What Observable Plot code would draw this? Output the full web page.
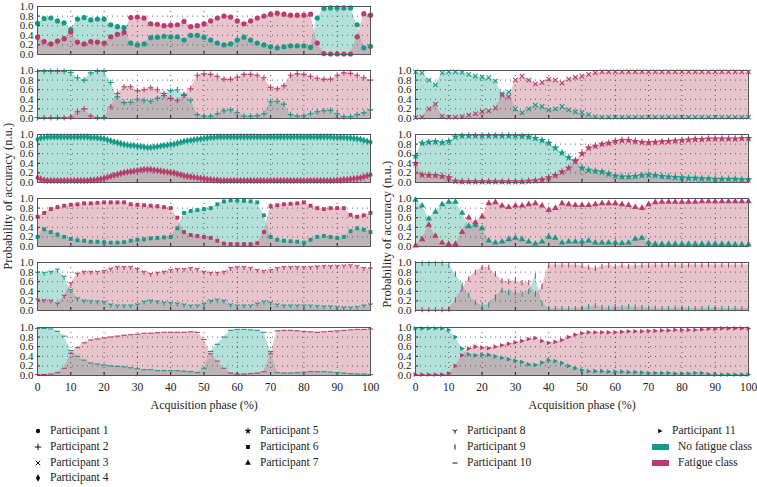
<!DOCTYPE html>
<html><head><meta charset="utf-8">
<script src="https://cdn.jsdelivr.net/npm/d3@7"></script>
<script src="https://cdn.jsdelivr.net/npm/@observablehq/plot@0.6"></script>
<style>
body{margin:0;background:#fff;}
#root{position:relative;width:757px;height:487px;overflow:hidden;font-family:"Liberation Serif","DejaVu Serif","Times New Roman",serif;color:#222;}
.panel{position:absolute;}
.lbl{position:absolute;font-size:12.5px;white-space:nowrap;line-height:1;}
.lblx{font-size:12px;}
.leg{position:absolute;font-size:11.5px;white-space:nowrap;display:flex;align-items:center;line-height:1;}
</style></head><body><div id="root"></div>
<script>
// ---------------- data ----------------
const phase = [0,2,4,6,8,10,12,14,16,18,20,22,24,26,28,30,32,34,36,38,40,42,44,46,48,50,52,54,56,58,60,62,64,66,68,70,72,74,76,78,80,82,84,86,88,90,92,94,96,98,100];
const phaseFine = [0,1,2,3,4,5,6,7,8,9,10,11,12,13,14,15,16,17,18,19,20,21,22,23,24,25,26,27,28,29,30,31,32,33,34,35,36,37,38,39,40,41,42,43,44,45,46,47,48,49,50,51,52,53,54,55,56,57,58,59,60,61,62,63,64,65,66,67,68,69,70,71,72,73,74,75,76,77,78,79,80,81,82,83,84,85,86,87,88,89,90,91,92,93,94,95,96,97,98,99,100];
const xTicks = [0,10,20,30,40,50,60,70,80,90,100];
const xGrid = [10,20,30,40,50,60,70,80,90];
const yTicks = [0,0.2,0.4,0.6,0.8,1.0];
const yGrid = [0.2,0.4,0.6,0.8];

const p1NoFatigue = [.65,.75,.76,.70,.66,.52,.74,.77,.72,.74,.74,.62,.58,.56,.24,.20,.22,.35,.36,.38,.37,.37,.30,.40,.40,.36,.30,.24,.20,.22,.30,.36,.30,.24,.20,.16,.14,.16,.18,.18,.18,.15,.76,.96,.97,.97,.97,.97,.62,.14,.17];
const p1Fatigue   = [.36,.27,.22,.28,.33,.47,.26,.22,.27,.26,.24,.37,.42,.46,.77,.78,.76,.64,.63,.60,.61,.62,.69,.58,.60,.64,.70,.76,.80,.78,.70,.64,.70,.76,.80,.84,.86,.84,.82,.82,.82,.84,.24,.02,.01,.01,.01,.01,.37,.85,.82];

const p2NoFatigue = [.98,.98,.98,.98,.98,.96,.85,.80,.95,.98,.98,.75,.45,.33,.34,.40,.38,.36,.42,.48,.58,.60,.50,.38,.08,.05,.05,.10,.16,.18,.12,.05,.05,.06,.10,.35,.36,.30,.08,.05,.06,.10,.14,.16,.17,.10,.04,.04,.08,.12,.18];
const p2Fatigue   = [.02,.02,.02,.02,.02,.03,.14,.20,.05,.02,.02,.24,.52,.66,.66,.58,.60,.64,.60,.52,.42,.38,.48,.62,.90,.93,.92,.88,.82,.82,.86,.92,.92,.90,.85,.65,.62,.68,.90,.93,.92,.88,.84,.82,.82,.90,.95,.94,.90,.85,.80];

const p3NoFatigue = [.97,.95,.80,.70,.95,.97,.97,.96,.92,.88,.86,.85,.78,.52,.55,.20,.12,.20,.28,.25,.18,.20,.25,.18,.14,.12,.08,.04,.03,.03,.03,.03,.03,.03,.03,.03,.03,.03,.03,.03,.03,.03,.03,.03,.03,.03,.03,.03,.03,.03,.03];
const p3Fatigue   = [.02,.03,.20,.30,.05,.03,.03,.04,.07,.10,.14,.16,.22,.48,.45,.80,.88,.80,.72,.75,.82,.80,.74,.82,.86,.88,.92,.95,.97,.97,.97,.97,.97,.97,.97,.97,.97,.97,.97,.97,.97,.97,.97,.97,.97,.97,.97,.97,.97,.97,.97];

const p4NoFatigue = [.90,.93,.94,.95,.95,.95,.95,.95,.95,.95,.95,.95,.95,.95,.95,.95,.94,.94,.93,.92,.91,.89,.87,.85,.83,.81,.79,.78,.77,.77,.76,.75,.74,.73,.73,.74,.75,.76,.77,.78,.79,.80,.82,.84,.86,.87,.88,.89,.90,.91,.92,.93,.94,.94,.95,.95,.95,.95,.95,.95,.95,.95,.95,.95,.95,.95,.95,.95,.95,.95,.95,.95,.95,.95,.95,.95,.95,.95,.95,.95,.95,.95,.95,.95,.95,.95,.95,.95,.95,.94,.94,.94,.94,.93,.93,.92,.91,.90,.88,.86,.84];
const p4Fatigue   = [.10,.07,.05,.04,.04,.04,.04,.04,.04,.04,.04,.04,.04,.04,.04,.04,.05,.05,.06,.07,.09,.11,.13,.15,.17,.19,.21,.22,.23,.24,.25,.26,.27,.27,.27,.26,.25,.24,.23,.22,.21,.20,.18,.16,.14,.13,.12,.11,.10,.09,.08,.07,.06,.05,.05,.04,.04,.04,.04,.04,.04,.04,.04,.04,.04,.04,.04,.04,.04,.04,.04,.04,.04,.04,.04,.04,.04,.04,.04,.04,.04,.04,.04,.04,.04,.04,.04,.04,.04,.04,.05,.05,.06,.06,.07,.08,.09,.10,.12,.14,.16];

const p5NoFatigue = [.55,.82,.84,.85,.83,.86,.95,.97,.97,.97,.97,.97,.97,.97,.97,.97,.96,.95,.92,.88,.82,.72,.62,.52,.45,.30,.26,.24,.22,.18,.14,.12,.12,.13,.15,.16,.15,.13,.12,.11,.10,.09,.09,.08,.08,.07,.07,.07,.07,.06,.06];
const p5Fatigue   = [.40,.16,.15,.15,.13,.10,.03,.02,.02,.02,.02,.02,.02,.02,.02,.02,.02,.03,.04,.06,.10,.15,.22,.30,.45,.60,.72,.76,.80,.82,.86,.88,.88,.86,.84,.83,.84,.85,.86,.87,.88,.89,.90,.90,.91,.91,.91,.91,.91,.92,.92];

const p6NoFatigue = [.20,.36,.30,.25,.20,.16,.13,.12,.10,.10,.09,.08,.08,.09,.12,.14,.15,.17,.18,.19,.20,.38,.70,.74,.76,.78,.80,.88,.94,.96,.96,.95,.94,.92,.65,.20,.14,.12,.11,.10,.08,.14,.20,.22,.20,.18,.20,.32,.38,.35,.30];
const p6Fatigue   = [.62,.70,.78,.82,.85,.87,.88,.90,.90,.91,.92,.92,.92,.92,.88,.87,.86,.85,.84,.82,.80,.60,.30,.24,.22,.20,.18,.12,.06,.05,.05,.05,.05,.07,.30,.84,.86,.88,.89,.90,.92,.85,.80,.78,.80,.80,.80,.66,.62,.65,.70];

const p7NoFatigue = [.97,.85,.58,.72,.88,.93,.93,.70,.42,.45,.38,.12,.08,.10,.15,.18,.15,.10,.06,.10,.20,.18,.08,.10,.10,.10,.12,.08,.08,.08,.08,.07,.08,.16,.18,.08,.05,.05,.05,.05,.05,.05,.05,.05,.05,.05,.05,.05,.04,.04,.04];
const p7Fatigue   = [.02,.15,.45,.22,.08,.05,.05,.30,.60,.50,.62,.90,.92,.85,.82,.85,.85,.88,.90,.85,.76,.80,.90,.88,.86,.86,.86,.88,.90,.90,.90,.88,.86,.82,.80,.88,.92,.93,.93,.93,.93,.93,.93,.94,.94,.94,.94,.94,.94,.94,.94];

const p8NoFatigue = [.78,.78,.80,.85,.70,.42,.25,.20,.19,.18,.17,.12,.10,.10,.10,.12,.18,.20,.18,.16,.15,.14,.12,.10,.10,.13,.20,.22,.20,.12,.10,.10,.10,.14,.18,.16,.12,.10,.10,.10,.10,.10,.09,.08,.08,.07,.06,.06,.07,.10,.12];
const p8Fatigue   = [.22,.21,.20,.14,.30,.56,.76,.80,.80,.80,.82,.87,.90,.90,.90,.86,.80,.76,.78,.80,.84,.86,.86,.88,.86,.80,.78,.78,.80,.88,.90,.90,.88,.84,.82,.84,.88,.90,.90,.90,.90,.90,.91,.92,.92,.92,.93,.94,.92,.88,.87];

const p9NoFatigue = [.98,.98,.98,.98,.98,.96,.76,.53,.32,.17,.10,.12,.28,.42,.38,.38,.34,.40,.72,.15,.04,.04,.04,.04,.04,.05,.08,.10,.06,.05,.08,.06,.08,.07,.06,.05,.05,.04,.04,.05,.05,.04,.04,.04,.05,.05,.04,.04,.04,.04,.04];
const p9Fatigue   = [.02,.02,.02,.02,.02,.03,.22,.45,.66,.80,.90,.90,.76,.62,.60,.62,.58,.58,.34,.50,.95,.95,.95,.95,.95,.94,.90,.88,.92,.94,.92,.94,.92,.93,.94,.95,.95,.95,.95,.95,.95,.95,.95,.95,.95,.95,.95,.95,.95,.95,.95];

const p10NoFatigue = [.98,.98,.97,.92,.82,.52,.40,.32,.26,.24,.22,.20,.19,.18,.16,.14,.12,.12,.10,.10,.10,.10,.09,.08,.06,.15,.50,.65,.80,.94,.96,.96,.95,.94,.90,.50,.06,.05,.05,.06,.07,.08,.08,.08,.07,.06,.05,.04,.03,.03,.02];
const p10Fatigue   = [.02,.02,.03,.06,.15,.46,.58,.68,.74,.76,.78,.80,.82,.84,.85,.86,.88,.88,.89,.90,.90,.90,.90,.91,.90,.75,.45,.30,.15,.05,.03,.03,.04,.05,.08,.45,.93,.94,.94,.93,.92,.91,.90,.91,.92,.93,.94,.95,.96,.96,.97];

const p11NoFatigue = [.98,.98,.98,.98,.98,.95,.80,.56,.44,.42,.43,.43,.40,.37,.34,.31,.28,.23,.22,.27,.32,.30,.26,.20,.15,.11,.09,.09,.09,.08,.08,.08,.07,.07,.06,.05,.05,.05,.05,.04,.04,.04,.05,.05,.03,.02,.02,.02,.02,.02,.02];
const p11Fatigue   = [.02,.02,.02,.02,.02,.04,.20,.42,.56,.60,.58,.57,.60,.63,.66,.69,.72,.76,.78,.72,.68,.70,.74,.80,.85,.88,.90,.90,.90,.90,.90,.91,.92,.92,.92,.93,.93,.94,.94,.95,.95,.95,.95,.96,.97,.97,.98,.98,.98,.98,.98];

const participantNames = ["Participant 1","Participant 2","Participant 3","Participant 4","Participant 5","Participant 6","Participant 7","Participant 8","Participant 9","Participant 10","Participant 11"];
const classNames = ["No fatigue class","Fatigue class"];
const axisTitleX = "Acquisition phase (%)";
const axisTitleY = "Probability of accuracy (n.u.)";

// ---------------- styling ----------------
const tealMark = "#169b88", pinkMark = "#b83d6c";
const tealFill = "#b3e1d9", pinkFill = "#cd7f92", pinkOpacity = 0.46;
const FONT = '"Liberation Serif","DejaVu Serif","Times New Roman",serif';

const vline = {draw(ctx, size){const r = Math.sqrt(size/Math.PI)*1.15; ctx.moveTo(0,-r); ctx.lineTo(0,r);}};
const hline = {draw(ctx, size){const r = Math.sqrt(size/Math.PI)*1.15; ctx.moveTo(-r,0); ctx.lineTo(r,0);}};
const triRight = {draw(ctx, size){const r = Math.sqrt(size/Math.PI)*1.2; ctx.moveTo(r,0); ctx.lineTo(-r*0.7,-r*0.85); ctx.lineTo(-r*0.7,r*0.85); ctx.closePath();}};
const triDownY = {draw(ctx, size){const r = Math.sqrt(size/Math.PI)*1.2; ctx.moveTo(0,0); ctx.lineTo(0,r); ctx.moveTo(0,0); ctx.lineTo(-r*0.87,-r*0.5); ctx.moveTo(0,0); ctx.lineTo(r*0.87,-r*0.5);}};

const symbols = [
  {plot:"circle", d3:d3.symbolCircle, filled:true, r:2.6},
  {plot:"plus", d3:d3.symbolPlus, filled:false, r:2.0},
  {plot:"times", d3:d3.symbolTimes, filled:false, r:2.2},
  {plot:"diamond", d3:d3.symbolDiamond, filled:true, r:2.3},
  {plot:"star", d3:d3.symbolStar, filled:true, r:2.6},
  {plot:"square", d3:d3.symbolSquare, filled:true, r:2.2},
  {plot:"triangle", d3:d3.symbolTriangle, filled:true, r:2.4},
  {plot:triDownY, d3:triDownY, filled:false, r:2.2},
  {plot:vline, d3:vline, filled:false, r:2.3},
  {plot:hline, d3:hline, filled:false, r:2.3},
  {plot:triRight, d3:triRight, filled:true, r:2.3}
];

const panels = [
  {p:0, col:0, row:0, x:phase, nf:p1NoFatigue, f:p1Fatigue},
  {p:1, col:0, row:1, x:phase, nf:p2NoFatigue, f:p2Fatigue},
  {p:3, col:0, row:2, x:phaseFine, nf:p4NoFatigue, f:p4Fatigue},
  {p:5, col:0, row:3, x:phase, nf:p6NoFatigue, f:p6Fatigue},
  {p:7, col:0, row:4, x:phase, nf:p8NoFatigue, f:p8Fatigue},
  {p:9, col:0, row:5, x:phase, nf:p10NoFatigue, f:p10Fatigue},
  {p:2, col:1, row:1, x:phase, nf:p3NoFatigue, f:p3Fatigue},
  {p:4, col:1, row:2, x:phase, nf:p5NoFatigue, f:p5Fatigue},
  {p:6, col:1, row:3, x:phase, nf:p7NoFatigue, f:p7Fatigue},
  {p:8, col:1, row:4, x:phase, nf:p9NoFatigue, f:p9Fatigue},
  {p:10, col:1, row:5, x:phase, nf:p11NoFatigue, f:p11Fatigue}
];

const root = document.getElementById("root");
const PANEL_H = 48, MT = 6, ROW_STEP = 64.1, TOP0 = 6;

function dotOpts(key, color, s){
  return {x:"x", y:key, symbol:s.plot, r:s.r,
    fill: s.filled ? color : "none", stroke: s.filled ? "none" : color,
    strokeWidth: s.filled ? 0 : 1.1};
}

for (const pn of panels){
  const s = symbols[pn.p];
  const data = pn.x.map((x,i)=>({x, nf:pn.nf[i], f:pn.f[i]}));
  const bottom = pn.row === 5;
  const MB = bottom ? 24 : 4;
  const plot = Plot.plot({
    width: 374, height: MT + PANEL_H + MB,
    marginLeft: 37, marginRight: 4, marginTop: MT, marginBottom: MB,
    x: {domain:[0,100], label:null},
    y: {domain:[0,1], label:null},
    style: {fontFamily: FONT, fontSize:"11px", color:"#222", background:"transparent", overflow:"visible"},
    marks: [
      Plot.areaY(data, {x:"x", y:"nf", fill: tealFill}),
      Plot.areaY(data, {x:"x", y:"f", fill: pinkFill, fillOpacity: pinkOpacity}),
      Plot.gridX({ticks: xGrid, stroke:"#333", strokeOpacity:0.75, strokeDasharray:"1 4"}),
      Plot.gridY({ticks: yGrid, stroke:"#333", strokeOpacity:0.75, strokeDasharray:"1 4"}),
      Plot.axisY({ticks: yTicks, tickFormat: d => d.toFixed(1), tickSize: -3, tickPadding: 7, fontSize: 11, fontFamily: FONT}),
      Plot.axisX({ticks: xTicks, tickSize: -3, tickPadding: bottom ? 10 : 0, tickFormat: bottom ? (d => String(d)) : (() => ""), fontSize: 11.5, fontFamily: FONT}),
      Plot.dot(data, dotOpts("nf", tealMark, s)),
      Plot.dot(data, dotOpts("f", pinkMark, s)),
      Plot.frame({stroke:"#555", strokeWidth:1})
    ]
  });
  const div = document.createElement("div");
  div.className = "panel";
  div.style.left = (pn.col === 0 ? 0 : 378) + "px";
  div.style.top = (TOP0 + ROW_STEP*pn.row - MT) + "px";
  div.appendChild(plot);
  root.appendChild(div);
}

// axis titles
function addLabel(text, x, y, rotate){
  const el = document.createElement("div");
  el.className = rotate ? "lbl" : "lbl lblx";
  el.textContent = text;
  root.appendChild(el);
  el.style.left = (x - el.offsetWidth/2) + "px";
  el.style.top = (y - el.offsetHeight/2) + "px";
  if (rotate) el.style.transform = "rotate(-90deg)";
}
addLabel(axisTitleY, 8, 196, true);
addLabel(axisTitleY, 387, 234, true);
addLabel(axisTitleX, 204, 405, false);
addLabel(axisTitleX, 582, 405, false);

// legend
function legendSymbol(s){
  const svg = d3.create("svg").attr("width", 12).attr("height", 12).style("margin-right","6px").style("overflow","visible");
  const size = Math.PI * 2.2 * 2.2;
  svg.append("path").attr("transform","translate(6,6)")
    .attr("d", d3.symbol(s.d3, size)())
    .attr("fill", s.filled ? "#111" : "none")
    .attr("stroke", s.filled ? "none" : "#111")
    .attr("stroke-width", 1);
  return svg.node();
}
const legendCols = [
  {x:32, items:[0,1,2,3]},
  {x:242, items:[4,5,6]},
  {x:449, items:[7,8,9]},
  {x:654, items:[10]}
];
const rowY = [431, 447, 463, 478];
for (const c of legendCols){
  c.items.forEach((pi, j) => {
    const el = document.createElement("div");
    el.className = "leg";
    el.style.left = c.x + "px";
    el.style.top = (rowY[j] - 7) + "px";
    el.style.height = "14px";
    el.appendChild(legendSymbol(symbols[pi]));
    const t = document.createElement("span");
    t.textContent = participantNames[pi];
    el.appendChild(t);
    root.appendChild(el);
  });
}
[[classNames[0], tealMark, 447],[classNames[1], pinkMark, 463]].forEach(([name, color, y]) => {
  const el = document.createElement("div");
  el.className = "leg";
  el.style.left = "652px";
  el.style.top = (y - 7) + "px";
  el.style.height = "14px";
  const sw = document.createElement("span");
  sw.style.cssText = `display:inline-block;width:17px;height:6px;background:${color};margin-right:9px;`;
  el.appendChild(sw);
  const t = document.createElement("span");
  t.textContent = name;
  el.appendChild(t);
  root.appendChild(el);
});
</script>
</body></html>
